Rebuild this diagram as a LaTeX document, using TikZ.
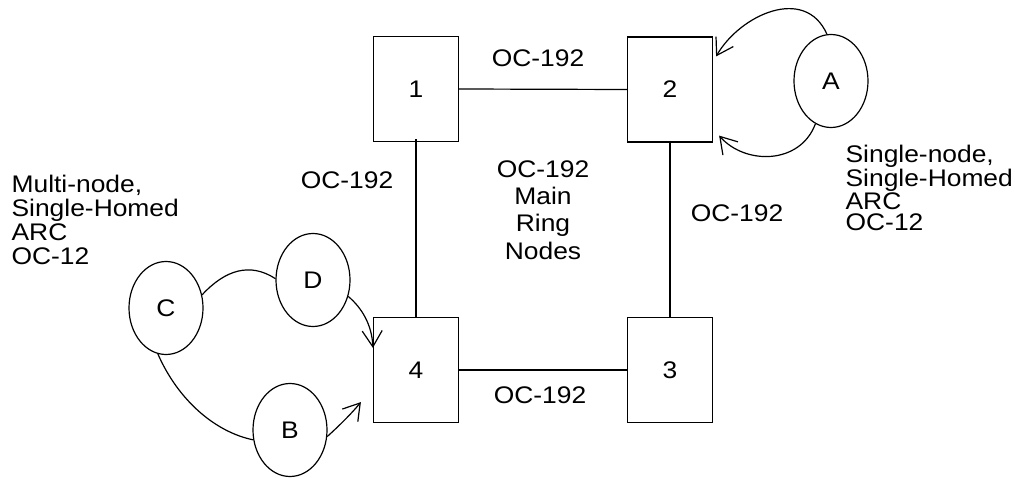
\documentclass[tikz,border=0pt]{standalone}
\usepackage{fontspec}
\newfontfamily\lab[FakeStretch=1.1]{Liberation Sans}
\usetikzlibrary{shapes.geometric,arrows.meta,calc}
\begin{document}
\begin{tikzpicture}[x=1pt,y=-1pt,line width=1.2pt,
  every node/.style={font=\lab\fontsize{24}{24}\selectfont},
  ringbox/.style={draw,rectangle,minimum width=85pt,minimum height=105pt,inner sep=0pt},
  arcnode/.style={draw,ellipse,minimum width=74pt,minimum height=93pt,inner sep=0pt},
  lbl/.style={anchor=base,inner sep=0pt},
  arr/.style={-{Straight Barb[length=16pt,width=20pt,line width=1.2pt]}}]
\useasboundingbox (0,0) rectangle (1015,478);
% ring nodes
\node[ringbox] (n1) at (416,89) {1};
\node[ringbox] (n2) at (670,89.5) {2};
\node[ringbox] (n3) at (670,370) {3};
\node[ringbox] (n4) at (416,370) {4};
% ARC nodes
\node[arcnode] (A) at (831,81) {A};
\node[arcnode] (D) at (313,280) {D};
\node[arcnode] (C) at (166,308) {C};
\node[arcnode] (B) at (290,430) {B};
% ring links
\draw (n1.east) -- (n2.west);
\draw ([yshift=3pt]n1.south) -- (n4.north);
\draw ([yshift=2pt]n2.south) -- (n3.north);
\draw (n4.east) -- (n3.west);
% link labels
\node[lbl] (l12) at (538,67) {OC-192};
\node[lbl] (l14) at (347,189) {OC-192};
\node[lbl] (l23) at (737,222) {OC-192};
\node[lbl] (l43) at (540,403) {OC-192};
\node[anchor=north,inner sep=0pt,align=center,font=\lab\fontsize{24}{27.3}\selectfont] (mid) at (543,160) {OC-192\\Main\\Ring\\Nodes};
% ARC labels
\node[anchor=north west,inner sep=0pt,align=left,font=\lab\fontsize{24}{21}\selectfont] (rt) at (845,145) {Single-node,\\Single-Homed\\ARC\\OC-12};
\node[anchor=north west,inner sep=0pt,align=left,font=\lab\fontsize{24}{24}\selectfont] (lt) at (11,175) {Multi-node,\\Single-Homed\\ARC\\OC-12};
% single-node ARC A to node 2
\coordinate (a2t) at ($(n2.north east)+(3,20)$);
\coordinate (a2b) at ($(n2.south east)+(6,-7)$);
\draw[arr] (A.95) .. controls (805,-15) and (740,15) .. (a2t);
\draw[arr] (A.250) .. controls (800,165) and (745,165) .. (a2b);
% multi-node ARC
\coordinate (d4) at ($(n4.north west)+(0,31)$);
\coordinate (b4) at ($(n4.south west)+(-12,-21)$);
\draw (C.20) .. controls (225,270) and (250,262) .. (D.178);
\draw (C.260) .. controls (178,400) and (215,432) .. (B.195);
\draw[arr] (D.-25) .. controls (362,308) and (372,325) .. (d4);
\draw[arr] (B.-10) .. controls (340,425) and (352,413) .. (b4);
\end{tikzpicture}
\end{document}
